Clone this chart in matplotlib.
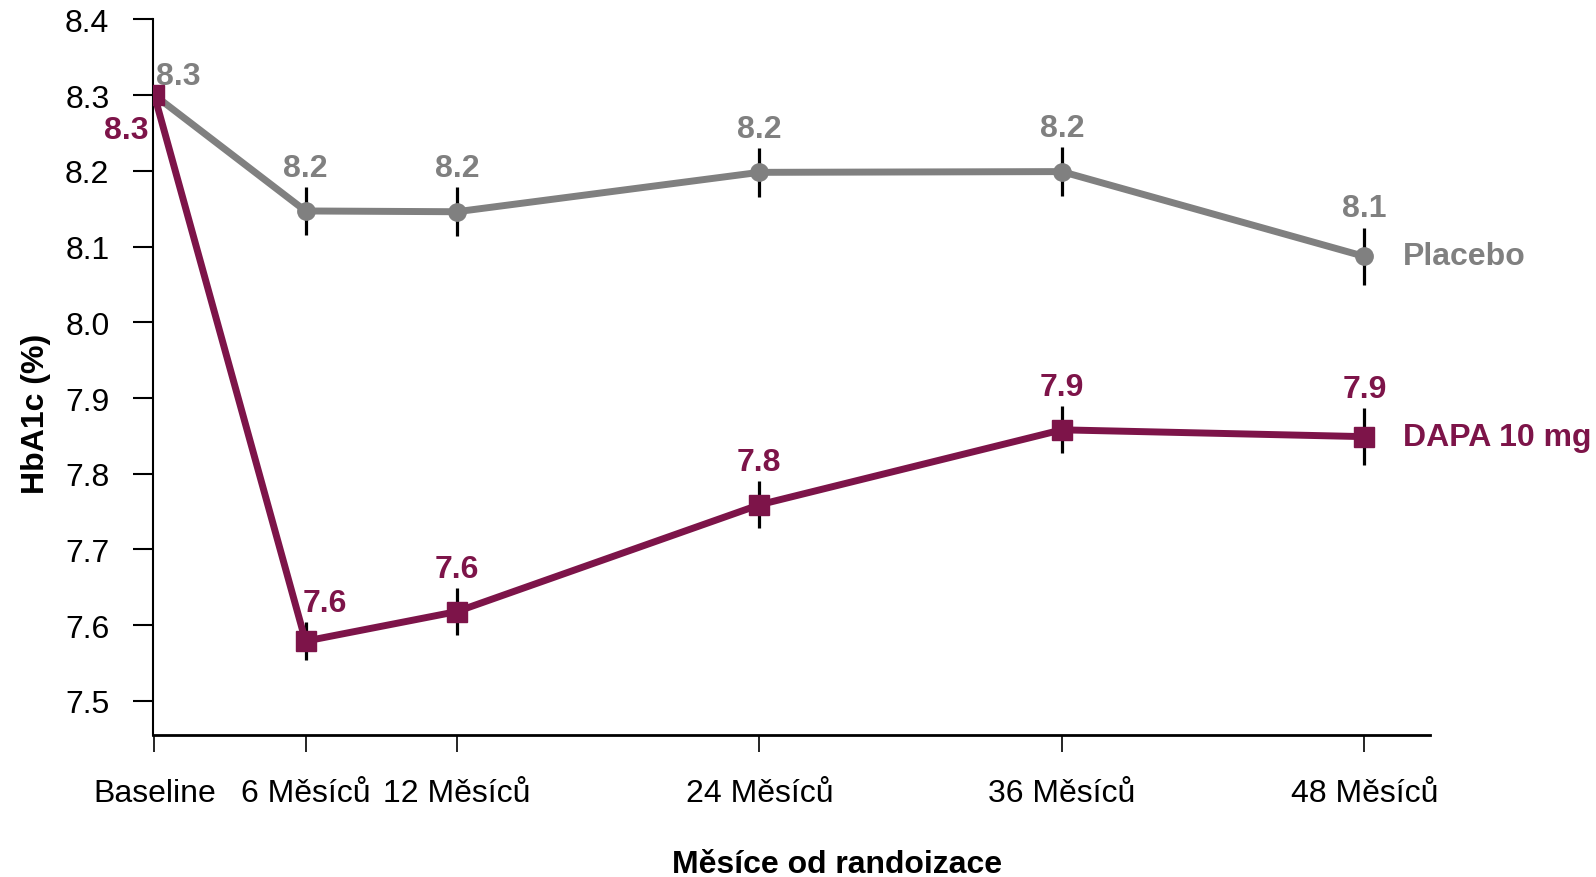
import matplotlib
matplotlib.use("Agg")
import matplotlib.pyplot as plt

plt.rcParams['font.family'] = ['Liberation Sans', 'DejaVu Sans']

# Months since randomisation and tick labels
months = [0, 6, 12, 24, 36, 48]
tick_labels = ["Baseline", "6 Měsíců", "12 Měsíců", "24 Měsíců", "36 Měsíců", "48 Měsíců"]

# Mean HbA1c (%) per group with error half-widths and printed labels
placebo_mean = [8.30, 8.147, 8.146, 8.198, 8.199, 8.087]
placebo_err = [0.0, 0.032, 0.032, 0.032, 0.032, 0.038]
placebo_labels = ["8.3", "8.2", "8.2", "8.2", "8.2", "8.1"]

dapa_mean = [8.30, 7.579, 7.618, 7.759, 7.858, 7.849]
dapa_err = [0.0, 0.025, 0.031, 0.031, 0.031, 0.038]
dapa_labels = ["8.3", "7.6", "7.6", "7.8", "7.9", "7.9"]

GRAY = "#808080"
PURPLE = "#7D1449"
FS = 23

fig = plt.figure(figsize=(15.96, 8.78), dpi=100)
ax = fig.add_axes([0.0959, 0.1617, 0.8, 0.8151])

for mean, err, color, marker, ms, z in [
    (placebo_mean, placebo_err, GRAY, "o", 12.5, 3),
    (dapa_mean, dapa_err, PURPLE, "s", 14.5, 4),
]:
    ax.errorbar(months[1:], mean[1:], yerr=err[1:], fmt="none",
                ecolor="black", elinewidth=2.3, capsize=0, zorder=2)
    ax.plot(months, mean, color=color, lw=5.0, marker=marker, ms=ms,
            zorder=z, solid_joinstyle="round")

# Value labels above each error bar
for i, m in enumerate(months):
    if i == 0:
        ax.annotate(placebo_labels[i], (m, placebo_mean[i]), xytext=(17, 14),
                    textcoords="offset points", ha="center", va="center",
                    color=GRAY, fontsize=FS, fontweight="bold")
        ax.annotate(dapa_labels[i], (m, dapa_mean[i]), xytext=(-20, -25),
                    textcoords="offset points", ha="center", va="center",
                    color=PURPLE, fontsize=FS, fontweight="bold")
        continue
    ax.annotate(placebo_labels[i], (m, placebo_mean[i] + placebo_err[i]),
                xytext=(0, 13.8), textcoords="offset points", ha="center",
                va="center", color=GRAY, fontsize=FS, fontweight="bold")
    dx = 14 if i == 1 else 0
    ax.annotate(dapa_labels[i], (m, dapa_mean[i] + dapa_err[i]),
                xytext=(dx, 13.8), textcoords="offset points", ha="center",
                va="center", color=PURPLE, fontsize=FS, fontweight="bold")

# Series names at the right end of each line
ax.annotate("Placebo", (months[-1], placebo_mean[-1]), xytext=(28, 0),
            textcoords="offset points", ha="left", va="center",
            color=GRAY, fontsize=FS, fontweight="bold", annotation_clip=False)
ax.annotate("DAPA 10 mg", (months[-1], dapa_mean[-1]), xytext=(28, 0),
            textcoords="offset points", ha="left", va="center",
            color=PURPLE, fontsize=FS, fontweight="bold", annotation_clip=False)

ax.set_xlim(-0.05, 50.6)
ax.set_ylim(7.455, 8.4)
ax.set_xticks(months)
ax.set_xticklabels(tick_labels)
ax.set_yticks([7.5, 7.6, 7.7, 7.8, 7.9, 8.0, 8.1, 8.2, 8.3, 8.4])
ax.set_yticklabels(["7.5", "7.6", "7.7", "7.8", "7.9", "8.0", "8.1", "8.2", "8.3", "8.4"])

for s in ["top", "right"]:
    ax.spines[s].set_visible(False)
ax.spines["left"].set_linewidth(1.5)
ax.spines["bottom"].set_linewidth(2.0)
ax.tick_params(axis="y", direction="out", length=14.4, width=1.5, pad=17, labelsize=FS)
ax.tick_params(axis="x", direction="out", length=12, width=1.2, pad=19, labelsize=FS)

fig.text(0.0223, 0.5285, "HbA1c (%)", rotation=90, ha="center",
         va="center", fontsize=FS, fontweight="bold")
fig.text(0.5245, 1 - 865 / 878, "Měsíce od randoizace", ha="center", va="center",
         fontsize=FS, fontweight="bold")

fig.savefig("out.png", dpi=100)
